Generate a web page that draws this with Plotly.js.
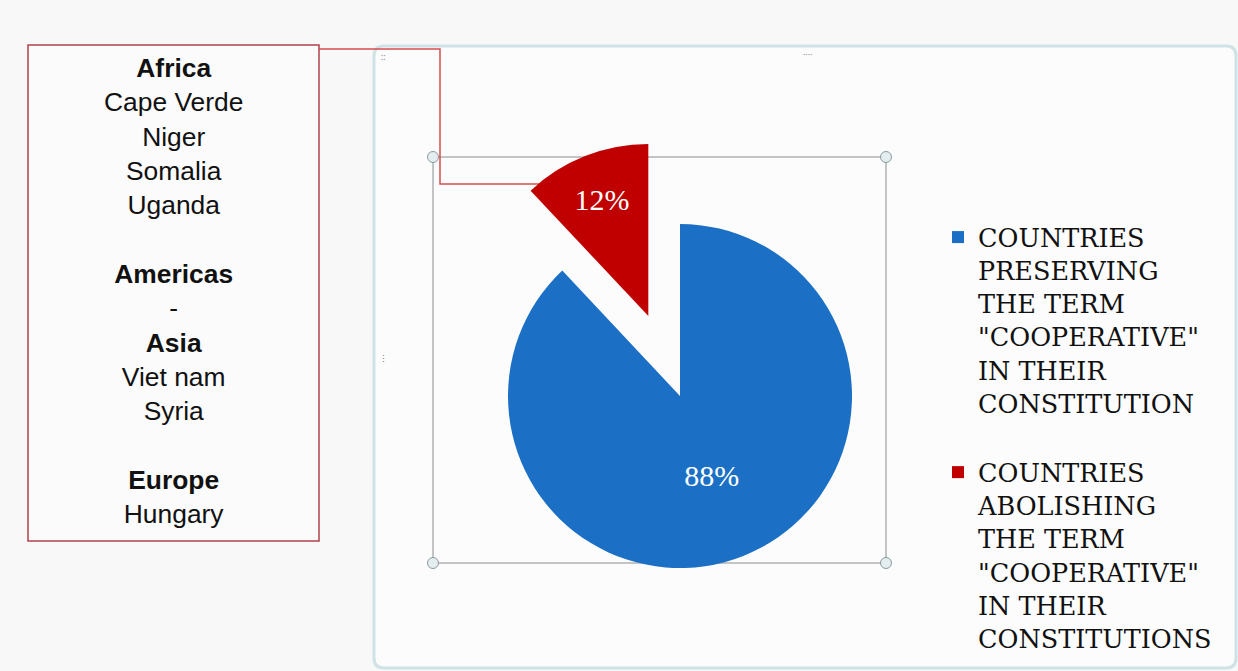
<!DOCTYPE html>
<html>
<head>
<meta charset="utf-8">
<script src="https://cdn.plot.ly/plotly-3.0.1.min.js"></script>
<style>
  html, body { margin: 0; padding: 0; background: #f8f8f8; }
  #chart { width: 1238px; height: 671px; }
</style>
</head>
<body>
<div id="chart"></div>
<script>
// ---- data ----
const categories = [
  'COUNTRIES<br>PRESERVING<br>THE TERM<br>"COOPERATIVE"<br>IN THEIR<br>CONSTITUTION<br> ',
  'COUNTRIES<br>ABOLISHING<br>THE TERM<br>"COOPERATIVE"<br>IN THEIR<br>CONSTITUTIONS'
];
const shares = [88, 12];
const sliceColors = ['#1b70c6', '#c00000'];
const slicePull = [0, 0.5];

const regionHeads = ['Africa', 'Americas', 'Asia', 'Europe'];
const regionCountries = [
  ['Cape Verde', 'Niger', 'Somalia', 'Uganda'],
  ['-'],
  ['Viet nam', 'Syria'],
  ['Hungary']
];

// ---- layout helpers (pixel -> paper) ----
const W = 1238, H = 671;
const px = x => x / W;
const py = y => 1 - y / H;

// Build text of the left box
let boxLines = [];
regionHeads.forEach((h, i) => {
  boxLines.push('<b>' + h + '</b>');
  regionCountries[i].forEach(c => boxLines.push(c));
  if (i === 0 || i === 2) boxLines.push(' ');
});
const boxText = boxLines.join('<br>');

function path(points) {
  return points.map((p, i) => (i === 0 ? 'M' : 'L') + px(p[0]) + ',' + py(p[1])).join(' ');
}
function roundRect(x0, y0, x1, y1, r) {
  const P = (x, y) => px(x) + ',' + py(y);
  return 'M' + P(x0 + r, y0) + ' L' + P(x1 - r, y0) + ' Q' + P(x1, y0) + ' ' + P(x1, y0 + r) +
         ' L' + P(x1, y1 - r) + ' Q' + P(x1, y1) + ' ' + P(x1 - r, y1) +
         ' L' + P(x0 + r, y1) + ' Q' + P(x0, y1) + ' ' + P(x0, y1 - r) +
         ' L' + P(x0, y0 + r) + ' Q' + P(x0, y0) + ' ' + P(x0 + r, y0) + ' Z';
}
function handle(x, y) {
  return {type: 'circle', xref: 'paper', yref: 'paper', layer: 'above',
    x0: px(x - 5.5), x1: px(x + 5.5), y0: py(y + 5.5), y1: py(y - 5.5),
    fillcolor: '#e4edf0', line: {color: '#8a9ca0', width: 1}};
}

const trace = {
  type: 'pie',
  labels: categories,
  values: shares,
  sort: false,
  direction: 'clockwise',
  rotation: 0,
  pull: slicePull,
  marker: {colors: sliceColors, line: {width: 0}},
  textinfo: 'percent',
  textposition: 'inside',
  insidetextorientation: 'horizontal',
  textfont: {family: 'Liberation Serif, serif', size: 30, color: '#ffffff'},
  hoverinfo: 'label+percent',
  domain: {x: [px(422), px(938)], y: [py(654), py(138)]}
};

const layout = {
  width: W, height: H,
  margin: {l: 0, r: 0, t: 0, b: 0, autoexpand: false},
  paper_bgcolor: '#f8f8f8',
  plot_bgcolor: 'rgba(0,0,0,0)',
  showlegend: true,
  legend: {
    x: px(938), xanchor: 'left',
    y: py(214), yanchor: 'top',
    valign: 'top',
    bgcolor: 'rgba(0,0,0,0)',
    font: {family: 'DejaVu Serif, serif', size: 25.5, color: '#111111'},
    traceorder: 'normal'
  },
  shapes: [
    // outer chart frame
    {type: 'path', xref: 'paper', yref: 'paper', layer: 'below',
      path: roundRect(374, 46, 1236, 668, 10),
      fillcolor: '#fcfcfc', line: {color: '#cfe2e5', width: 3}},
    // plot area rectangle
    {type: 'rect', xref: 'paper', yref: 'paper', layer: 'below',
      x0: px(433), x1: px(886), y0: py(563), y1: py(157),
      line: {color: '#8c8c8c', width: 1}},
    // left text box
    {type: 'rect', xref: 'paper', yref: 'paper', layer: 'below',
      x0: px(28), x1: px(319), y0: py(541), y1: py(45),
      fillcolor: '#fbfbfb', line: {color: '#b0414a', width: 1.5}},
    // connector line
    {type: 'path', xref: 'paper', yref: 'paper', layer: 'below',
      path: path([[319, 49], [440, 49], [440, 184], [600, 184]]),
      line: {color: '#d24d4d', width: 1.5}},
    handle(433, 157), handle(886, 157), handle(433, 563), handle(886, 563)
  ],
  annotations: [
    {xref: 'paper', yref: 'paper', x: px(173), y: py(291),
      xanchor: 'center', yanchor: 'middle', align: 'center', showarrow: false,
      text: boxText,
      font: {family: 'Liberation Sans, Arial, sans-serif', size: 26.4, color: '#111111'}},
    {xref: 'paper', yref: 'paper', x: px(379), y: py(48), showarrow: false,
      text: '::', font: {size: 9, color: '#777'}},
    {xref: 'paper', yref: 'paper', x: px(807), y: py(46), showarrow: false,
      text: '····', font: {size: 9, color: '#777'}},
    {xref: 'paper', yref: 'paper', x: px(377), y: py(358), showarrow: false,
      text: '⋮', font: {size: 9, color: '#777'}}
  ]
};

Plotly.newPlot('chart', [trace], layout, {displayModeBar: false, staticPlot: true});
</script>
</body>
</html>
